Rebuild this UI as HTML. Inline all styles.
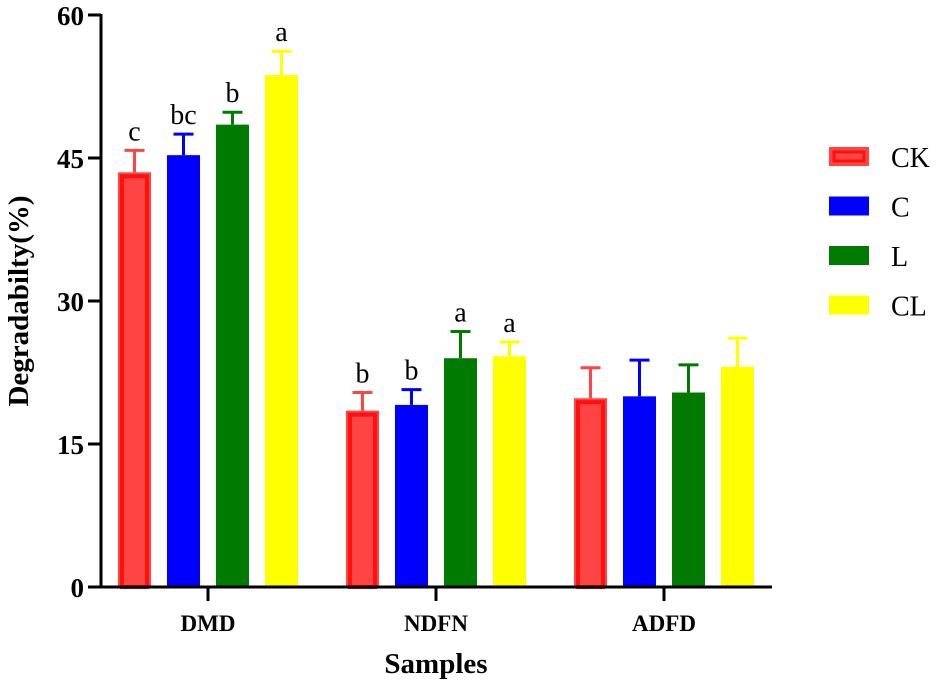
<!DOCTYPE html>
<html><head><meta charset="utf-8"><style>
html,body{margin:0;padding:0;background:#fff;}
svg{display:block;font-family:"Liberation Serif",serif;}
</style></head><body>
<svg id="chart" width="940" height="688"></svg>
<script>
const groups = ["DMD","NDFN","ADFD"];
const seriesNames = ["CK","C","L","CL"];
const ckValues = [43.5, 18.5, 19.8];
const cValues = [45.3, 19.1, 20.0];
const lValues = [48.5, 24.0, 20.4];
const clValues = [53.7, 24.2, 23.1];
const ckErr = [2.3, 1.9, 3.2];
const cErr = [2.2, 1.6, 3.8];
const lErr = [1.3, 2.8, 2.9];
const clErr = [2.5, 1.5, 3.0];
const ckLetters = ["c","b",""];
const cLetters = ["bc","b",""];
const lLetters = ["b","a",""];
const clLetters = ["a","a",""];
const yTicks = [0,15,30,45,60];

const values=[ckValues,cValues,lValues,clValues];
const errs=[ckErr,cErr,lErr,clErr];
const letters=[ckLetters,cLetters,lLetters,clLetters];
const colors=["#ff4444","#0000ff","#007a00","#ffff00"];
const NS="http://www.w3.org/2000/svg";
const svg=document.getElementById('chart');
const y0=587, yTop=15, x0=101, x1=772;
const y=v=>y0-(v/60)*(y0-yTop);
const gx=i=>208+i*228;
const off=[-73.5,-24.5,24.5,73.5], bw=33;
function mk(t,a){const e=document.createElementNS(NS,t);for(const k in a)e.setAttribute(k,a[k]);svg.appendChild(e);return e;}

for(let s=0;s<4;s++){for(let g=0;g<groups.length;g++){
  const cx=gx(g)+off[s], v=values[s][g], e=errs[s][g], top=y(v), et=y(v+e);
  const ln=mk('line',{x1:cx,x2:cx,y1:top,y2:et,stroke:colors[s],'stroke-width':3});
  
  
  const cap=mk('line',{x1:cx-10,x2:cx+10,y1:et,y2:et,stroke:colors[s],'stroke-width':3});
  
  
  const r=mk('rect',{x:cx-bw/2,y:top,width:bw,height:y0-top,fill:colors[s]});
  
  
  if(s===0){const ir=mk('rect',{x:cx-bw/2+4,y:top+4,width:bw-8,height:y0-top-4,fill:'none',stroke:'#ff1010','stroke-width':4});
    }
  if(letters[s][g]){const t=mk('text',{x:cx,y:et-10,'text-anchor':'middle','font-size':28,fill:'#000'});
    t.textContent=letters[s][g];
    }
}}
const ya=mk('line',{x1:x0,x2:x0,y1:yTop-1,y2:y0+1.5,stroke:'#000','stroke-width':3});

const xa=mk('line',{x1:x0-1.5,x2:x1,y1:y0,y2:y0,stroke:'#000','stroke-width':3});

yTicks.forEach(v=>{const l=mk('line',{x1:x0-13,x2:x0,y1:y(v),y2:y(v),stroke:'#000','stroke-width':3});
  
  const t=mk('text',{x:x0-17,y:y(v)+10,'text-anchor':'end','font-size':27,'font-weight':'bold'});t.textContent=v;
  });
groups.forEach((gname,g)=>{const l=mk('line',{x1:gx(g),x2:gx(g),y1:y0,y2:y0+14,stroke:'#000','stroke-width':3});
  
  const t=mk('text',{x:gx(g),y:y0+44,'text-anchor':'middle','font-size':23,'font-weight':'bold'});t.textContent=gname;
  });
const xt=mk('text',{x:436,y:673,'text-anchor':'middle','font-size':29,'font-weight':'bold'});xt.textContent='Samples';

const yt=mk('text',{x:0,y:0,'text-anchor':'middle','font-size':29,'font-weight':'bold',transform:'translate(28,301) rotate(-90)'});yt.textContent='Degradabilty(%)';

seriesNames.forEach((n,s)=>{const yy=147+s*49.5;
  const r=mk('rect',{x:829,y:yy,width:40,height:19,fill:colors[s]});
  
  if(s===0){const ir=mk('rect',{x:834,y:yy+5,width:30,height:9,fill:'none',stroke:'#ff1010','stroke-width':3});
    }
  const t=mk('text',{x:891,y:yy+20,'font-size':28});t.textContent=n;
  });
</script>
</body></html>
